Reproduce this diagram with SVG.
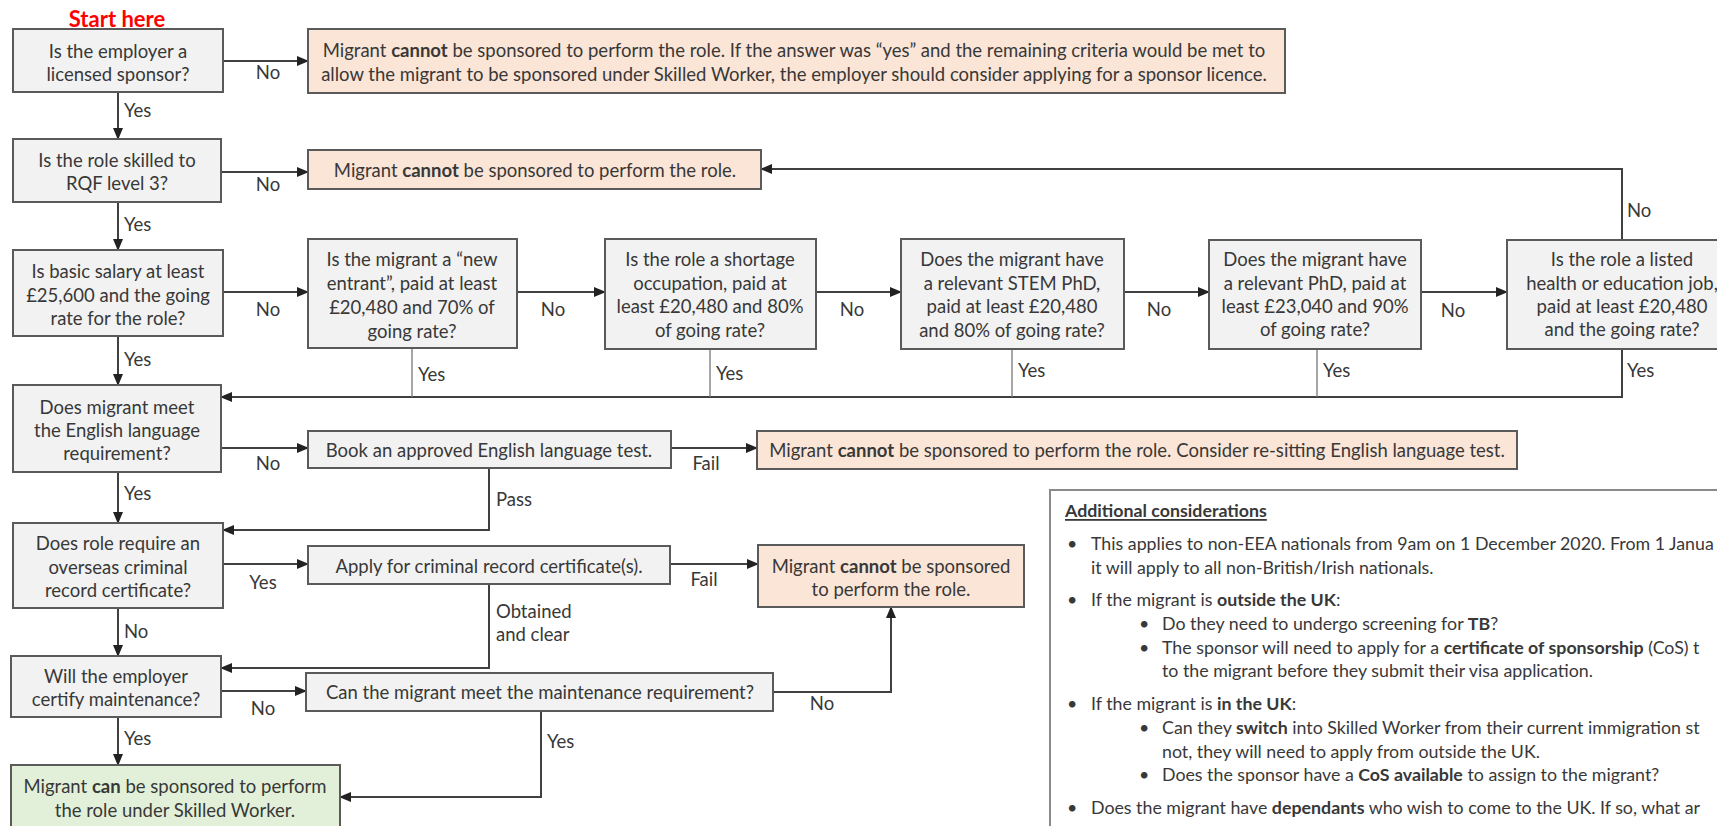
<svg xmlns="http://www.w3.org/2000/svg" width="1717" height="826" viewBox="0 0 1717 826">
<style>
text{font-family:Lato,"Open Sans","Liberation Sans",sans-serif;font-size:18.5px;fill:#383838;dominant-baseline:central}
.c{text-anchor:middle}
.b{font-weight:bold}
.s{font-size:17.8px}
.q{fill:#f2f2f2;stroke:#5a5a5a;stroke-width:2}
.o{fill:#fbe5d6;stroke:#5a5a5a;stroke-width:2}
.g{fill:#e2f0d9;stroke:#5a5a5a;stroke-width:2}
.l{fill:none;stroke:#404040;stroke-width:2}
.t{fill:none;stroke:#777;stroke-width:1.3}
.a{marker-end:url(#ah)}
</style>
<defs>
<marker id="ah" markerUnits="userSpaceOnUse" markerWidth="12" markerHeight="10" refX="11" refY="5" orient="auto"><path d="M0,0 L12,5 L0,10 Z" fill="#222"/></marker>
</defs>

<g id="start"><text x="117" y="18" class="c b" style="fill:#ff0000;font-size:22px">Start here</text></g>

<g id="connectors">
<path class="l a" d="M223,61H308"/>
<path class="l a" d="M118,92V139"/>
<path class="l a" d="M221,172H308"/>
<path class="l a" d="M1622,240V169H761"/>
<path class="l a" d="M118,202V250"/>
<path class="l a" d="M223,292H308"/>
<path class="l a" d="M517,292H605"/>
<path class="l a" d="M816,292H901"/>
<path class="l a" d="M1124,292H1209"/>
<path class="l a" d="M1421,292H1507"/>
<path class="l a" d="M118,336V385"/>
<path class="l a" d="M1622,349V397H221"/>
<path class="t" d="M412,348V397M710,349V397M1012,349V397M1317,349V397"/>
<path class="l a" d="M221,448H308"/>
<path class="l a" d="M671,448H757"/>
<path class="l a" d="M489,468V530H223"/>
<path class="l a" d="M118,472V523"/>
<path class="l a" d="M223,564H308"/>
<path class="l a" d="M670,564H758"/>
<path class="l a" d="M489,584V668H221"/>
<path class="l a" d="M118,608V656"/>
<path class="l a" d="M221,691H306"/>
<path class="l a" d="M773,692H891V607"/>
<path class="l a" d="M118,717V765"/>
<path class="l a" d="M541,711V797H340"/>
<text x="268" y="72" class="c">No</text>
<text x="124" y="110">Yes</text>
<text x="268" y="184" class="c">No</text>
<text x="1627" y="210">No</text>
<text x="124" y="224">Yes</text>
<text x="268" y="309" class="c">No</text>
<text x="553" y="309" class="c">No</text>
<text x="852" y="309" class="c">No</text>
<text x="1159" y="309" class="c">No</text>
<text x="1453" y="310" class="c">No</text>
<text x="124" y="359">Yes</text>
<text x="418" y="374">Yes</text>
<text x="716" y="373">Yes</text>
<text x="1018" y="370">Yes</text>
<text x="1323" y="370">Yes</text>
<text x="1627" y="370">Yes</text>
<text x="268" y="463" class="c">No</text>
<text x="706" y="463" class="c">Fail</text>
<text x="496" y="499">Pass</text>
<text x="124" y="493">Yes</text>
<text x="263" y="582" class="c">Yes</text>
<text x="704" y="579" class="c">Fail</text>
<text x="496" y="611">Obtained</text>
<text x="496" y="634">and clear</text>
<text x="124" y="631">No</text>
<text x="263" y="708" class="c">No</text>
<text x="822" y="703" class="c">No</text>
<text x="124" y="738">Yes</text>
<text x="547" y="741">Yes</text>
</g>

<g id="q1"><rect class="q" x="13" y="29" width="210" height="63"/>
<text x="118" y="51" class="c">Is the employer a</text><text x="118" y="74" class="c">licensed sponsor?</text></g>

<g id="r1"><rect class="o" x="308" y="29" width="977" height="64"/>
<text x="794" y="50" class="c">Migrant <tspan class="b">cannot</tspan> be sponsored to perform the role. If the answer was “yes” and the remaining criteria would be met to</text>
<text x="794" y="74" class="c">allow the migrant to be sponsored under Skilled Worker, the employer should consider applying for a sponsor licence.</text></g>

<g id="q2"><rect class="q" x="13" y="139" width="208" height="63"/>
<text x="117" y="160" class="c">Is the role skilled to</text><text x="117" y="183" class="c">RQF level 3?</text></g>

<g id="r2"><rect class="o" x="308" y="150" width="453" height="39"/>
<text x="535" y="170" class="c">Migrant <tspan class="b">cannot</tspan> be sponsored to perform the role.</text></g>

<g id="q3"><rect class="q" x="13" y="250" width="210" height="86"/>
<text x="118" y="271" class="c">Is basic salary at least</text><text x="118" y="295" class="c">£25,600 and the going</text><text x="118" y="318" class="c">rate for the role?</text></g>

<g id="q4"><rect class="q" x="308" y="239" width="209" height="109"/>
<text x="412" y="259" class="c">Is the migrant a “new</text><text x="412" y="283" class="c">entrant”, paid at least</text><text x="412" y="307" class="c">£20,480 and 70% of</text><text x="412" y="331" class="c">going rate?</text></g>

<g id="q5"><rect class="q" x="605" y="239" width="211" height="110"/>
<text x="710" y="259" class="c">Is the role a shortage</text><text x="710" y="283" class="c">occupation, paid at</text><text x="710" y="306" class="c">least £20,480 and 80%</text><text x="710" y="330" class="c">of going rate?</text></g>

<g id="q6"><rect class="q" x="901" y="239" width="223" height="110"/>
<text x="1012" y="259" class="c">Does the migrant have</text><text x="1012" y="283" class="c">a relevant STEM PhD,</text><text x="1012" y="306" class="c">paid at least £20,480</text><text x="1012" y="330" class="c">and 80% of going rate?</text></g>

<g id="q7"><rect class="q" x="1209" y="240" width="212" height="109"/>
<text x="1315" y="259" class="c">Does the migrant have</text><text x="1315" y="283" class="c">a relevant PhD, paid at</text><text x="1315" y="306" class="c">least £23,040 and 90%</text><text x="1315" y="329" class="c">of going rate?</text></g>

<g id="q8"><rect class="q" x="1507" y="240" width="235" height="109"/>
<text x="1622" y="259" class="c">Is the role a listed</text><text x="1622" y="283" class="c">health or education job,</text><text x="1622" y="306" class="c">paid at least £20,480</text><text x="1622" y="329" class="c">and the going rate?</text></g>

<g id="q9"><rect class="q" x="13" y="385" width="208" height="87"/>
<text x="117" y="407" class="c">Does migrant meet</text><text x="117" y="430" class="c">the English language</text><text x="117" y="453" class="c">requirement?</text></g>

<g id="book"><rect class="q" x="308" y="431" width="363" height="37"/>
<text x="489" y="450" class="c">Book an approved English language test.</text></g>

<g id="r3"><rect class="o" x="757" y="431" width="760" height="38"/>
<text x="1137" y="450" class="c">Migrant <tspan class="b">cannot</tspan> be sponsored to perform the role. Consider re-sitting English language test.</text></g>

<g id="q10"><rect class="q" x="13" y="523" width="210" height="85"/>
<text x="118" y="543" class="c">Does role require an</text><text x="118" y="567" class="c">overseas criminal</text><text x="118" y="590" class="c">record certificate?</text></g>

<g id="apply"><rect class="q" x="308" y="546" width="362" height="38"/>
<text x="489" y="566" class="c">Apply for criminal record certificate(s).</text></g>

<g id="r4"><rect class="o" x="758" y="545" width="266" height="62"/>
<text x="891" y="566" class="c">Migrant <tspan class="b">cannot</tspan> be sponsored</text><text x="891" y="589" class="c">to perform the role.</text></g>

<g id="q11"><rect class="q" x="11" y="656" width="210" height="61"/>
<text x="116" y="676" class="c">Will the employer</text><text x="116" y="699" class="c">certify maintenance?</text></g>

<g id="can"><rect class="q" x="306" y="673" width="467" height="38"/>
<text x="540" y="692" class="c">Can the migrant meet the maintenance requirement?</text></g>

<g id="final"><rect class="g" x="11" y="765" width="329" height="80"/>
<text x="175" y="786" class="c">Migrant <tspan class="b">can</tspan> be sponsored to perform</text><text x="175" y="810" class="c">the role under Skilled Worker.</text></g>

<g id="additional"><rect x="1050" y="490" width="700" height="360" fill="#fff" stroke="#8a8a8a" stroke-width="2"/>
<text x="1065" y="510" class="b s" text-decoration="underline">Additional considerations</text>
<text x="1067" y="543" class="s">•</text><text x="1091" y="543" class="s">This applies to non-EEA nationals from 9am on 1 December 2020. From 1 Janua</text>
<text x="1091" y="567" class="s">it will apply to all non-British/Irish nationals.</text>
<text x="1067" y="599" class="s">•</text><text x="1091" y="599" class="s">If the migrant is <tspan class="b">outside the UK</tspan>:</text>
<text x="1139" y="623" class="s">•</text><text x="1162" y="623" class="s">Do they need to undergo screening for <tspan class="b">TB</tspan>?</text>
<text x="1139" y="647" class="s">•</text><text x="1162" y="647" class="s">The sponsor will need to apply for a <tspan class="b">certificate of sponsorship</tspan> (CoS) t</text>
<text x="1162" y="670" class="s">to the migrant before they submit their visa application.</text>
<text x="1067" y="703" class="s">•</text><text x="1091" y="703" class="s">If the migrant is <tspan class="b">in the UK</tspan>:</text>
<text x="1139" y="727" class="s">•</text><text x="1162" y="727" class="s">Can they <tspan class="b">switch</tspan> into Skilled Worker from their current immigration st</text>
<text x="1162" y="751" class="s">not, they will need to apply from outside the UK.</text>
<text x="1139" y="774" class="s">•</text><text x="1162" y="774" class="s">Does the sponsor have a <tspan class="b">CoS available</tspan> to assign to the migrant?</text>
<text x="1067" y="807" class="s">•</text><text x="1091" y="807" class="s">Does the migrant have <tspan class="b">dependants</tspan> who wish to come to the UK. If so, what ar</text>
</g>
</svg>
